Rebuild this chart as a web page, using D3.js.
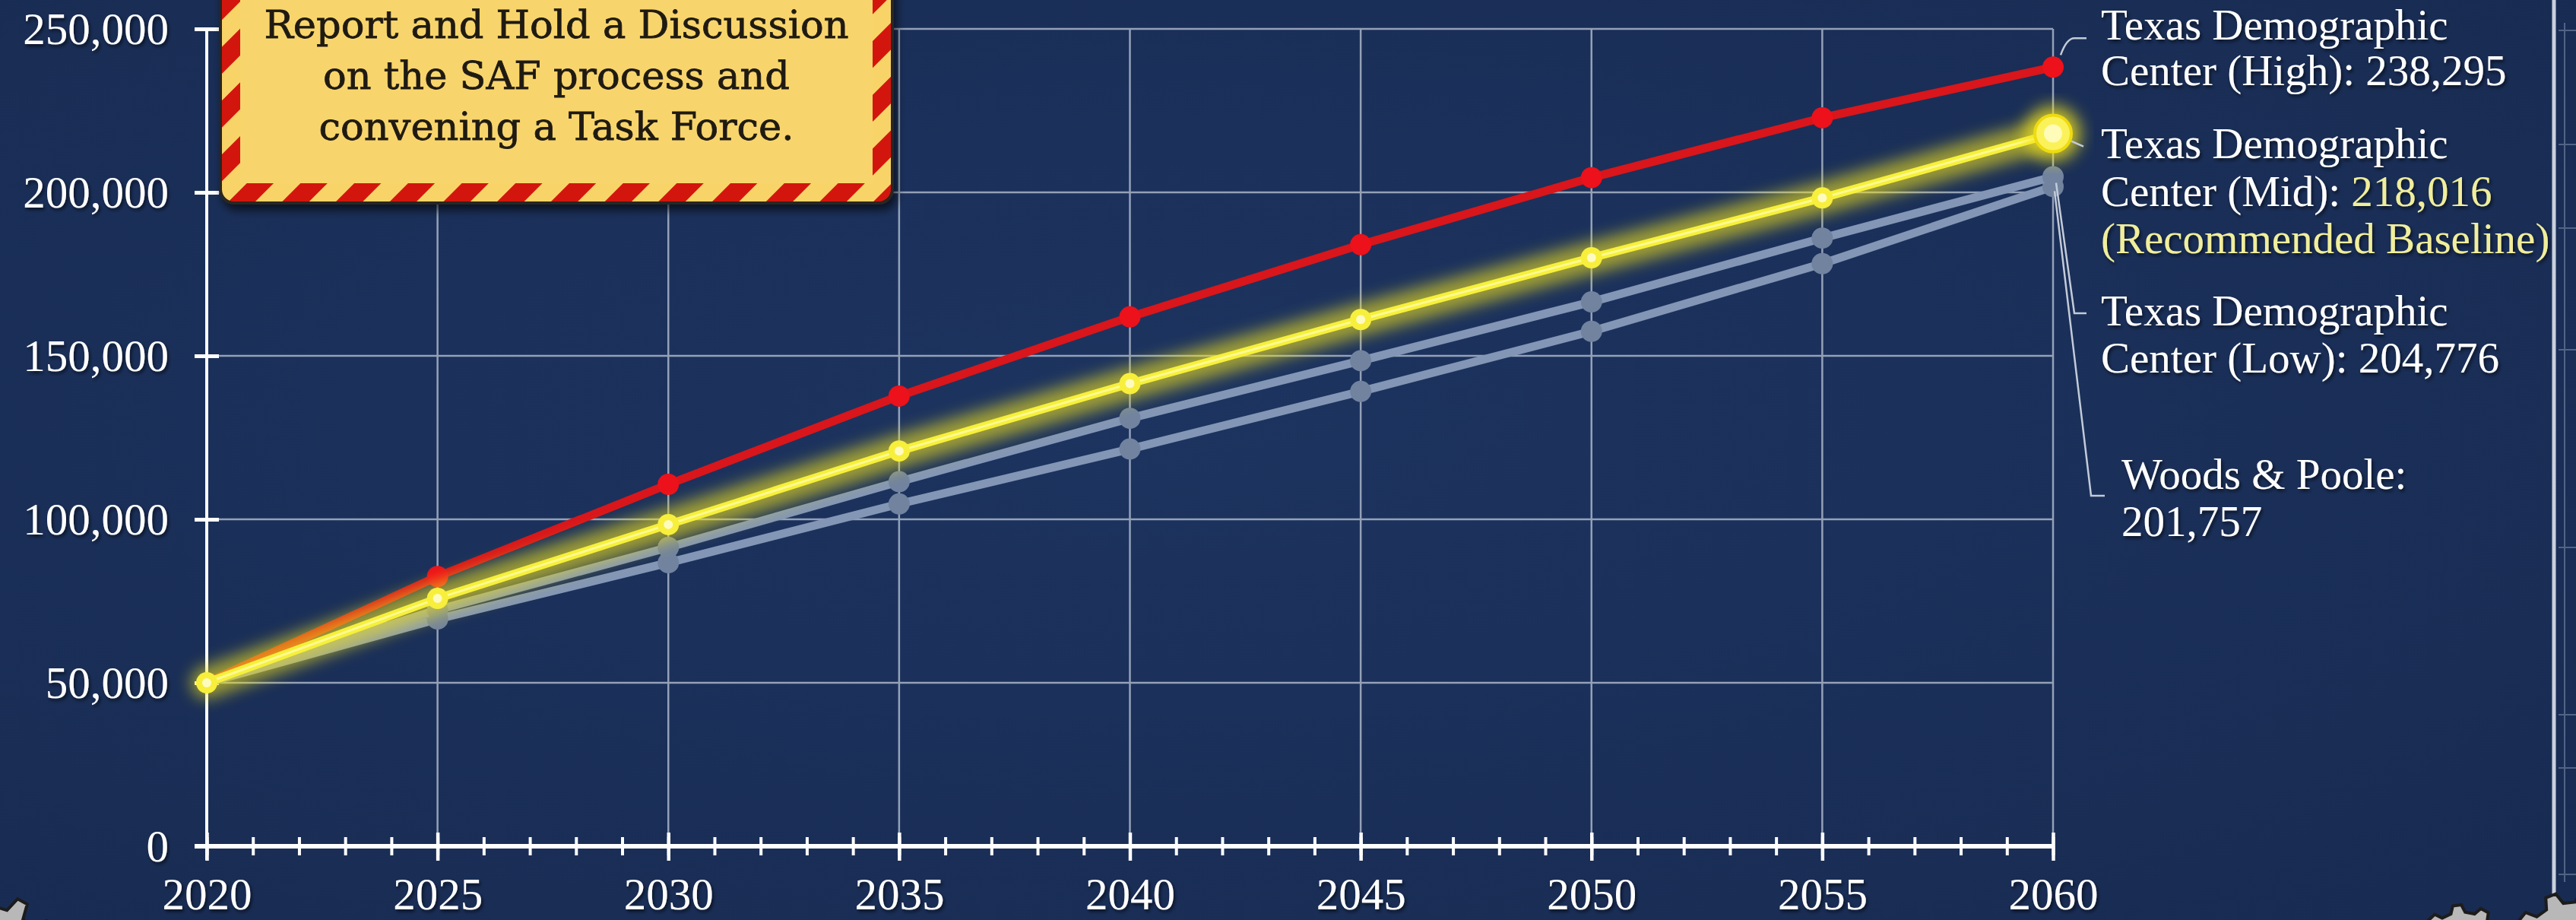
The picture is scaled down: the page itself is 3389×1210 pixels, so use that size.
<!DOCTYPE html>
<html>
<head>
<meta charset="utf-8">
<script src="https://cdn.jsdelivr.net/npm/d3@7"></script>
<style>
  html, body { margin: 0; padding: 0; background: #1b3059; overflow: hidden; }
  svg { display: block; }
</style>
</head>
<body>
<svg id="chart"></svg>
<script>
  // ---- Data ----
  const years = [2020, 2025, 2030, 2035, 2040, 2045, 2050, 2055, 2060];
  const tdcHigh = [50000, 82500, 110700, 137700, 161900, 184000, 204500, 222800, 238295];
  const tdcMid = [50000, 75800, 98400, 120900, 141500, 161100, 180000, 198300, 218016];
  const tdcLow = [50000, 72300, 91400, 111500, 130900, 148500, 166500, 186000, 204776];
  const woodsPoole = [50000, 69500, 86700, 104700, 121500, 139100, 157500, 178200, 201757];
  const yTicks = [0, 50000, 100000, 150000, 200000, 250000];
  const minorYears = d3.range(2020, 2061, 1);
  const boxLines = ["Report and Hold a Discussion", "on the SAF process and", "convening a Task Force."];

  const W = 3389, H = 1210;
  const svg = d3.select("#chart").attr("width", W).attr("height", H);

  const x = d3.scaleLinear().domain([2020, 2060]).range([272, 2701]);
  const y = d3.scaleLinear().domain([0, 250000]).range([1113, 38]);

  // ---- defs ----
  const defs = svg.append("defs");
  const bg = defs.append("radialGradient").attr("id", "bg").attr("cx", "45%").attr("cy", "45%").attr("r", "75%");
  bg.append("stop").attr("offset", "0%").attr("stop-color", "#1d3460");
  bg.append("stop").attr("offset", "100%").attr("stop-color", "#182b52");

  const glow = defs.append("filter").attr("id", "glow").attr("x", "-20%").attr("y", "-20%").attr("width", "140%").attr("height", "140%");
  glow.append("feGaussianBlur").attr("stdDeviation", 10);

  const shadow = defs.append("filter").attr("id", "tshadow").attr("x", "-5%").attr("y", "-20%").attr("width", "110%").attr("height", "140%");
  shadow.append("feDropShadow").attr("dx", 2).attr("dy", 3).attr("stdDeviation", 2).attr("flood-color", "#000").attr("flood-opacity", 0.6);

  const boxShadow = defs.append("filter").attr("id", "bshadow").attr("x", "-10%").attr("y", "-10%").attr("width", "120%").attr("height", "130%");
  boxShadow.append("feDropShadow").attr("dx", 4).attr("dy", 8).attr("stdDeviation", 6).attr("flood-color", "#000").attr("flood-opacity", 0.6);

  const stripes = defs.append("pattern").attr("id", "stripes")
    .attr("patternUnits", "userSpaceOnUse").attr("width", 50).attr("height", 50)
    .attr("patternTransform", "rotate(45)");
  stripes.append("rect").attr("width", 50).attr("height", 50).attr("fill", "#f8d468");
  stripes.append("rect").attr("width", 25).attr("height", 50).attr("fill", "#d3180f");

  svg.append("rect").attr("width", W).attr("height", H).attr("fill", "url(#bg)");

  // ---- Grid ----
  const grid = svg.append("g").attr("stroke", "#aab5c8").attr("stroke-width", 2.5).attr("opacity", 0.85);
  grid.selectAll("line.h").data(yTicks.slice(1)).join("line")
    .attr("x1", x(2020)).attr("x2", x(2060))
    .attr("y1", (d) => y(d)).attr("y2", (d) => y(d));
  grid.selectAll("line.v").data(years.slice(1)).join("line")
    .attr("x1", (d) => x(d)).attr("x2", (d) => x(d))
    .attr("y1", y(250000)).attr("y2", y(0));

  // ---- Axes ----
  const tickFont = "'Liberation Serif', 'Times New Roman', serif";

  const minorAxis = svg.append("g").attr("transform", `translate(0,${y(0)})`)
    .call(d3.axisBottom(x).tickValues(minorYears).tickFormat("").tickSizeOuter(0));
  minorAxis.select(".domain").remove();
  minorAxis.selectAll(".tick line").attr("y1", -12).attr("y2", 12).attr("stroke", "#fff").attr("stroke-width", 4);

  const xAxis = svg.append("g").attr("transform", `translate(0,${y(0)})`)
    .call(d3.axisBottom(x).tickValues(years).tickFormat(d3.format("d")).tickSizeOuter(0));
  xAxis.select(".domain").remove();
  xAxis.selectAll(".tick line").attr("y1", -18).attr("y2", 19).attr("stroke", "#fff").attr("stroke-width", 4.5);
  xAxis.selectAll(".tick text").attr("y", 83).attr("dy", 0)
    .attr("fill", "#fff").attr("font-family", tickFont).attr("font-size", 59).attr("filter", "url(#tshadow)");
  svg.append("line").attr("x1", x(2020) - 16).attr("x2", x(2060))
    .attr("y1", y(0)).attr("y2", y(0)).attr("stroke", "#fff").attr("stroke-width", 6);

  const yAxis = svg.append("g").attr("transform", `translate(${x(2020)},0)`)
    .call(d3.axisLeft(y).tickValues(yTicks).tickFormat(d3.format(",")).tickSizeOuter(0));
  yAxis.select(".domain").attr("stroke", "#fff").attr("stroke-width", 4).attr("d", `M0,${y(250000)}V${y(0) + 18}`);
  yAxis.selectAll(".tick line").attr("x1", -16).attr("x2", 16).attr("stroke", "#fff").attr("stroke-width", 5);
  yAxis.selectAll(".tick text").attr("x", -50).attr("dy", "0.33em")
    .attr("fill", "#fff").attr("font-family", tickFont).attr("font-size", 59).attr("filter", "url(#tshadow)");

  // ---- Lines ----
  const line = d3.line().x((d) => x(d.year)).y((d) => y(d.value));
  const toPts = (vals) => years.map((yr, i) => ({ year: yr, value: vals[i] }));

  const plot = svg.append("g");

  [woodsPoole, tdcLow].forEach((vals) => {
    plot.append("path").datum(toPts(vals)).attr("d", line)
      .attr("fill", "none").attr("stroke", "#8396b5").attr("stroke-width", 11).attr("stroke-linejoin", "round");
    plot.selectAll(null).data(toPts(vals).slice(1)).join("circle")
      .attr("cx", (d) => x(d.year)).attr("cy", (d) => y(d.value)).attr("r", 14).attr("fill", "#71839f");
  });

  const highPts = toPts(tdcHigh);
  plot.append("path").datum(highPts).attr("d", line)
    .attr("fill", "none").attr("stroke", "#d8161b").attr("stroke-width", 11).attr("stroke-linejoin", "round");
  plot.selectAll(null).data(highPts.slice(1)).join("circle")
    .attr("cx", (d) => x(d.year)).attr("cy", (d) => y(d.value)).attr("r", 14).attr("fill", "#ec111a");

  const midPts = toPts(tdcMid);
  plot.append("path").datum(midPts).attr("d", line)
    .attr("fill", "none").attr("stroke", "#f2e21c").attr("stroke-width", 42).attr("opacity", 0.6)
    .attr("stroke-linecap", "round").attr("filter", "url(#glow)");
  plot.append("path").datum(midPts).attr("d", line)
    .attr("fill", "none").attr("stroke", "#f6f03a").attr("stroke-width", 11).attr("stroke-linejoin", "round");
  plot.append("path").datum(midPts).attr("d", line)
    .attr("fill", "none").attr("stroke", "#fffba8").attr("stroke-width", 3).attr("opacity", 0.8);
  plot.selectAll(null).data(midPts.slice(0, -1)).join("circle")
    .attr("cx", (d) => x(d.year)).attr("cy", (d) => y(d.value)).attr("r", 14).attr("fill", "#f7ef3c");
  plot.selectAll(null).data(midPts.slice(0, -1)).join("circle")
    .attr("cx", (d) => x(d.year)).attr("cy", (d) => y(d.value)).attr("r", 6).attr("fill", "#fffbc0");

  const last = midPts[midPts.length - 1];
  plot.append("circle").attr("cx", x(last.year)).attr("cy", y(last.value)).attr("r", 38)
    .attr("fill", "#f5e51e").attr("opacity", 0.65).attr("filter", "url(#glow)");
  plot.append("circle").attr("cx", x(last.year)).attr("cy", y(last.value)).attr("r", 24)
    .attr("fill", "#fbf25a").attr("stroke", "#eedb10").attr("stroke-width", 4);
  plot.append("circle").attr("cx", x(last.year)).attr("cy", y(last.value)).attr("r", 12).attr("fill", "#fffbb8");

  // ---- Leader lines + end labels ----
  const lead = svg.append("g").attr("fill", "none").attr("stroke", "#c3cbd8").attr("stroke-width", 2.5);
  const ex = x(2060);
  lead.append("path").attr("d", `M${ex + 10},${y(tdcHigh[8]) - 16} Q${ex + 18},${y(tdcHigh[8]) - 38} ${ex + 28},${y(tdcHigh[8]) - 38} H${ex + 44}`);
  lead.append("path").attr("d", `M${ex + 24},${y(tdcMid[8]) + 10} L${ex + 40},${y(tdcMid[8]) + 17}`);
  lead.append("path").attr("d", `M${ex + 4},${y(tdcLow[8]) + 8} L${ex + 28},412 H${ex + 44}`);
  lead.append("path").attr("d", `M${ex + 2},${y(woodsPoole[8]) + 6} L${ex + 50},652 H${ex + 68}`);

  const labelFont = "'Liberation Serif', 'Times New Roman', serif";
  const fmt = d3.format(",");
  const endLabels = [
    { x: 2764, y: [52, 112], lines: [["Texas Demographic"], ["Center (High): " + fmt(tdcHigh[8])]] },
    { x: 2764, y: [208, 271, 333], lines: [["Texas Demographic"], ["Center (Mid): ", fmt(tdcMid[8])], ["", "(Recommended Baseline)"]] },
    { x: 2764, y: [428, 490], lines: [["Texas Demographic"], ["Center (Low): " + fmt(tdcLow[8])]] },
    { x: 2791, y: [643, 705], lines: [["Woods & Poole:"], [fmt(woodsPoole[8])]] },
  ];
  const lab = svg.append("g").attr("font-family", labelFont).attr("font-size", 57).attr("filter", "url(#tshadow)");
  endLabels.forEach((l) => {
    l.lines.forEach((parts, i) => {
      const t = lab.append("text").attr("x", l.x).attr("y", l.y[i]);
      t.append("tspan").attr("fill", "#ffffff").text(parts[0]);
      if (parts[1]) t.append("tspan").attr("fill", "#f1ee9c").text(parts[1]);
    });
  });

  // ---- Callout box ----
  const box = { x: 290, y: -60, w: 884, h: 327 };
  const bx = svg.append("g");
  bx.append("rect").attr("x", box.x).attr("y", box.y).attr("width", box.w).attr("height", box.h)
    .attr("rx", 18).attr("fill", "url(#stripes)").attr("stroke", "#2a2520").attr("stroke-width", 4)
    .attr("filter", "url(#bshadow)");
  bx.append("rect").attr("x", box.x + 26).attr("y", box.y + 26).attr("width", box.w - 52).attr("height", box.h - 52)
    .attr("fill", "#f8d56c");
  bx.selectAll("text").data(boxLines).join("text")
    .attr("x", box.x + box.w / 2).attr("y", (d, i) => 50 + i * 67)
    .attr("text-anchor", "middle").attr("fill", "#1f1a12")
    .attr("stroke", "#1f1a12").attr("stroke-width", 0.8)
    .attr("font-family", "'DejaVu Serif', serif").attr("font-size", 51)
    .text((d) => d);

  // ---- Right frame ----
  svg.append("line").attr("x1", 3360).attr("x2", 3360).attr("y1", 0).attr("y2", 1185)
    .attr("stroke", "#c9d1de").attr("stroke-width", 5);
  const frame = svg.append("g").attr("stroke", "#8a9bb8").attr("stroke-width", 2).attr("opacity", 0.5);
  frame.append("line").attr("x1", 3374).attr("x2", 3374).attr("y1", 30).attr("y2", 1160);
  [40, 190, 300, 460, 720, 940, 1010, 1150].forEach((yy) => {
    frame.append("line").attr("x1", 3366).attr("x2", 3389).attr("y1", yy).attr("y2", yy);
  });

  // ---- Decorative gears ----
  function gearPath(cx, cy, r, teeth) {
    const pts = [];
    const rIn = r * 0.84;
    for (let i = 0; i < teeth; i++) {
      const a = (i / teeth) * 2 * Math.PI;
      const s = (2 * Math.PI) / teeth;
      [[0, rIn], [0.15, r], [0.45, r], [0.6, rIn]].forEach(([f, rr]) => {
        pts.push([cx + rr * Math.cos(a + f * s), cy + rr * Math.sin(a + f * s)]);
      });
    }
    return "M" + pts.map((p) => p.join(",")).join("L") + "Z";
  }
  const gears = svg.append("g").attr("fill", "#b8b8b8").attr("stroke", "#1c1c1c").attr("stroke-width", 4);
  gears.append("path").attr("d", gearPath(-30, 1292, 122, 16));
  gears.append("path").attr("d", gearPath(3240, 1250, 60, 10));
  gears.append("path").attr("d", gearPath(3388, 1262, 90, 12));
</script>
</body>
</html>
